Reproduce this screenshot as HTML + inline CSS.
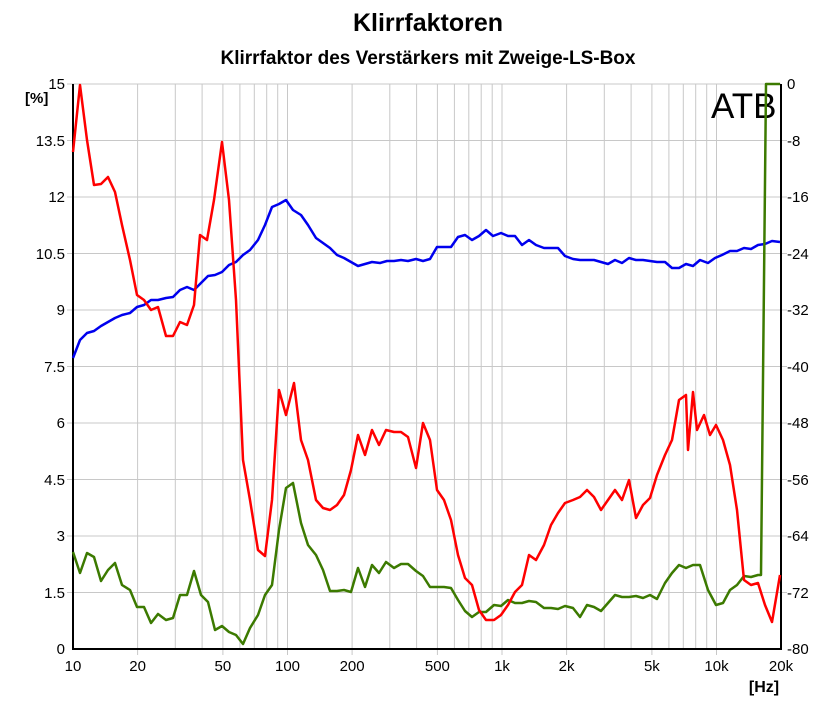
<!DOCTYPE html>
<html><head><meta charset="utf-8"><style>
html,body{margin:0;padding:0;background:#fff;}
svg{display:block;font-family:"Liberation Sans",sans-serif;}
</style></head><body>
<svg width="822" height="721" viewBox="0 0 822 721">
<text x="428" y="31" font-size="25" font-weight="bold" text-anchor="middle">Klirrfaktoren</text>
<text x="428" y="64" font-size="19" font-weight="bold" text-anchor="middle">Klirrfaktor des Verstärkers mit Zweige-LS-Box</text>
<g stroke="#c8c8c8" stroke-width="1">
<line x1="137.6" y1="84" x2="137.6" y2="649"/><line x1="175.3" y1="84" x2="175.3" y2="649"/><line x1="202.1" y1="84" x2="202.1" y2="649"/><line x1="222.9" y1="84" x2="222.9" y2="649"/><line x1="239.9" y1="84" x2="239.9" y2="649"/><line x1="254.3" y1="84" x2="254.3" y2="649"/><line x1="266.7" y1="84" x2="266.7" y2="649"/><line x1="277.7" y1="84" x2="277.7" y2="649"/>
<line x1="287.5" y1="84" x2="287.5" y2="655"/><line x1="352.1" y1="84" x2="352.1" y2="649"/><line x1="389.8" y1="84" x2="389.8" y2="649"/><line x1="416.6" y1="84" x2="416.6" y2="649"/><line x1="437.4" y1="84" x2="437.4" y2="649"/><line x1="454.4" y1="84" x2="454.4" y2="649"/><line x1="468.8" y1="84" x2="468.8" y2="649"/><line x1="481.2" y1="84" x2="481.2" y2="649"/><line x1="492.2" y1="84" x2="492.2" y2="649"/>
<line x1="502" y1="84" x2="502" y2="655"/><line x1="566.6" y1="84" x2="566.6" y2="649"/><line x1="604.3" y1="84" x2="604.3" y2="649"/><line x1="631.1" y1="84" x2="631.1" y2="649"/><line x1="651.9" y1="84" x2="651.9" y2="649"/><line x1="668.9" y1="84" x2="668.9" y2="649"/><line x1="683.3" y1="84" x2="683.3" y2="649"/><line x1="695.7" y1="84" x2="695.7" y2="649"/><line x1="706.7" y1="84" x2="706.7" y2="649"/>
<line x1="716.5" y1="84" x2="716.5" y2="655"/>
<line x1="67" y1="84" x2="781" y2="84"/><line x1="67" y1="140.5" x2="787" y2="140.5"/><line x1="67" y1="197" x2="787" y2="197"/><line x1="67" y1="253.5" x2="787" y2="253.5"/><line x1="67" y1="310" x2="787" y2="310"/><line x1="67" y1="366.5" x2="787" y2="366.5"/><line x1="67" y1="423" x2="787" y2="423"/><line x1="67" y1="479.5" x2="787" y2="479.5"/><line x1="67" y1="536" x2="787" y2="536"/><line x1="67" y1="592.5" x2="787" y2="592.5"/>
<line x1="137.6" y1="649" x2="137.6" y2="655"/><line x1="222.9" y1="649" x2="222.9" y2="655"/><line x1="352.1" y1="649" x2="352.1" y2="655"/><line x1="437.4" y1="649" x2="437.4" y2="655"/><line x1="566.6" y1="649" x2="566.6" y2="655"/><line x1="651.9" y1="649" x2="651.9" y2="655"/>
</g>
<g stroke="#000" stroke-width="2" fill="none">
<line x1="73" y1="84" x2="73" y2="650"/><line x1="72" y1="649" x2="782" y2="649"/><line x1="781" y1="84" x2="781" y2="650"/>
</g>
<g font-size="15" text-anchor="end">
<text x="65" y="89">15</text><text x="65" y="146">13.5</text><text x="65" y="202">12</text><text x="65" y="259">10.5</text><text x="65" y="315">9</text><text x="65" y="372">7.5</text><text x="65" y="428">6</text><text x="65" y="485">4.5</text><text x="65" y="541">3</text><text x="65" y="598">1.5</text><text x="65" y="654">0</text>
</g>
<text x="25" y="103" font-size="15" font-weight="bold">[%]</text>
<g font-size="15">
<text x="787" y="89">0</text><text x="787" y="146">-8</text><text x="787" y="202">-16</text><text x="787" y="259">-24</text><text x="787" y="315">-32</text><text x="787" y="372">-40</text><text x="787" y="428">-48</text><text x="787" y="485">-56</text><text x="787" y="541">-64</text><text x="787" y="598">-72</text><text x="787" y="654">-80</text>
</g>
<g font-size="15" text-anchor="middle">
<text x="73" y="671">10</text><text x="137.6" y="671">20</text><text x="222.9" y="671">50</text><text x="287.5" y="671">100</text><text x="352.1" y="671">200</text><text x="437.4" y="671">500</text><text x="502" y="671">1k</text><text x="566.6" y="671">2k</text><text x="651.9" y="671">5k</text><text x="716.5" y="671">10k</text><text x="781" y="671">20k</text>
</g>
<text x="764" y="692" font-size="16" font-weight="bold" text-anchor="middle">[Hz]</text>
<text x="711" y="118" font-size="35">ATB</text>
<g fill="none" stroke-width="2.5" stroke-linejoin="round">
<polyline stroke="#0000ee" points="73,358 80,340 87,333 94,331 101,326 108,322 115,318 122,315 130,313 137,307 144,305 151,300 158,300 166,298 173,297 180,290 187,287 194,290 201,283 208,276 215,275 222,272 229,265 236,262 243,255 250,250 258,240 265,225 272,207 279,204 286,200 293,210 301,215 308,225 316,238 323,243 330,248 337,255 344,258 351,262 358,266 365,264 372,262 380,263 387,261 394,261 401,260 408,261 416,259 423,261 430,259 437,247 444,247 451,247 458,237 465,235 472,240 479,236 486,230 493,236 501,233 508,236 515,236 522,245 529,240 536,245 544,248 551,248 558,248 565,256 573,259 580,260 587,260 594,260 601,262 608,264 615,260 622,263 629,258 636,260 643,260 650,261 657,262 665,262 672,268 679,268 686,264 693,266 700,260 708,263 715,258 722,255 730,251 737,251 744,248 751,249 758,245 765,244 772,241 780,242"/>
<polyline stroke="#3c7a00" points="73,552 80,573 87,553 94,557 101,581 108,570 115,563 122,585 130,590 137,607 144,607 151,623 158,614 166,620 173,618 180,595 187,595 194,571 201,595 208,602 215,630 222,626 229,632 236,635 243,644 250,628 258,615 265,595 272,585 279,530 286,488 293,483 301,523 308,545 316,555 323,570 330,591 337,591 344,590 351,592 358,568 365,587 372,565 379,573 386,562 394,568 401,564 408,564 416,571 423,576 430,587 437,587 444,587 451,588 458,600 465,611 472,617 479,612 486,612 494,605 501,606 508,600 515,603 522,603 529,601 536,602 544,608 551,608 558,609 565,606 573,608 580,617 587,605 594,607 601,611 608,603 615,595 622,597 629,597 636,596 643,598 650,595 657,599 665,583 672,573 679,565 686,568 693,565 700,565 708,590 716,605 723,603 730,590 737,585 744,576 751,577 758,575 761,575 766,84 780,84"/>
<polyline stroke="#ff0000" points="73,152 80,85 87,140 94,185 101,184 108,177 115,192 122,225 130,260 137,295 144,300 151,310 158,307 166,336 173,336 180,322 187,325 194,305 200,235 207,240 214,200 222,142 229,200 236,300 243,460 250,500 258,550 265,556 272,500 279,390 286,415 294,383 301,440 308,460 316,500 323,508 330,510 337,505 344,495 351,470 358,435 365,455 372,430 379,445 386,430 394,432 401,432 408,437 416,468 423,423 430,440 437,490 444,500 451,520 458,555 465,578 472,585 479,610 486,620 494,620 501,615 508,605 515,592 522,585 529,555 536,560 544,545 551,525 558,513 565,503 573,500 580,497 587,490 594,497 601,510 608,500 615,490 622,500 629,480 636,518 643,505 650,498 657,475 665,455 672,440 679,400 686,395 688,450 693,392 697,430 704,415 710,435 716,425 723,440 730,465 737,510 744,580 751,585 758,583 765,605 772,622 780,575"/>
</g>
</svg>
</body></html>
